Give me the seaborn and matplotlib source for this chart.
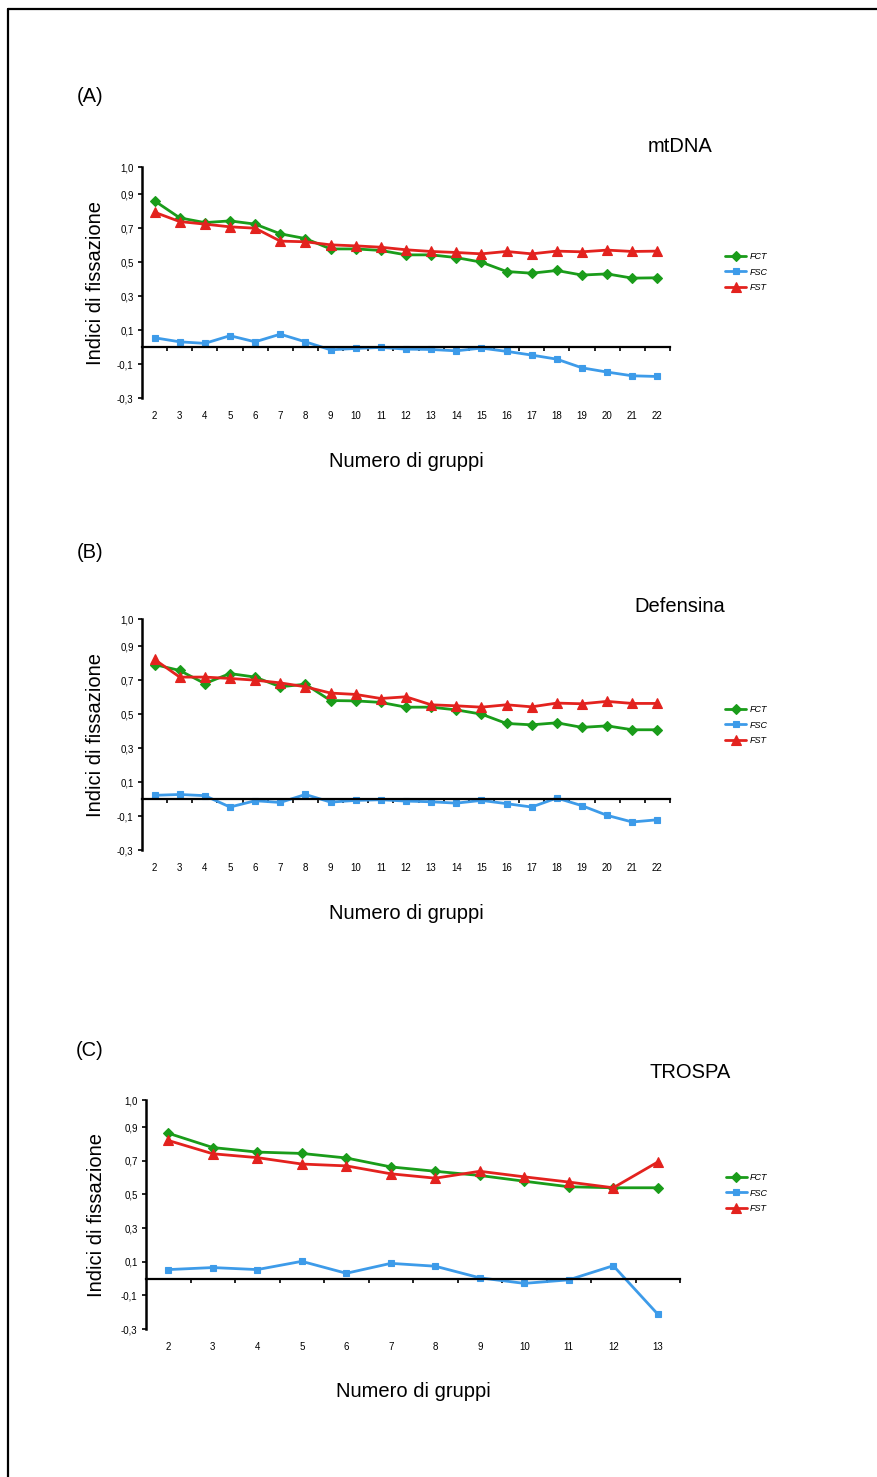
import numpy as np
import pandas as pd
import matplotlib.pyplot as plt
import seaborn as sns
from matplotlib.lines import Line2D

# DATA
gruppi_ab = list(range(2, 23))
gruppi_c = list(range(2, 14))

# (A) mtDNA
fct_a = [0.861, 0.761, 0.733, 0.743, 0.724, 0.667, 0.639, 0.578, 0.578, 0.569, 0.543,
         0.543, 0.527, 0.500, 0.445, 0.435, 0.451, 0.424, 0.431, 0.406, 0.408]
fsc_a = [0.055, 0.031, 0.022, 0.067, 0.031, 0.076, 0.031, -0.016, -0.008, -0.002, -0.012,
         -0.014, -0.022, -0.006, -0.025, -0.047, -0.071, -0.122, -0.147, -0.169, -0.173]
fst_a = [0.794, 0.739, 0.724, 0.708, 0.700, 0.624, 0.620, 0.602, 0.596, 0.588, 0.573,
         0.563, 0.557, 0.549, 0.563, 0.549, 0.565, 0.561, 0.571, 0.563, 0.565]

# (B) Defensina
fct_b = [0.792, 0.757, 0.680, 0.739, 0.718, 0.661, 0.676, 0.580, 0.578, 0.569, 0.541,
         0.541, 0.525, 0.500, 0.445, 0.437, 0.449, 0.422, 0.431, 0.408, 0.408]
fsc_b = [0.022, 0.027, 0.020, -0.047, -0.010, -0.020, 0.027, -0.018, -0.008, -0.004, -0.012,
         -0.016, -0.024, -0.008, -0.027, -0.047, 0.006, -0.039, -0.096, -0.135, -0.122]
fst_b = [0.822, 0.718, 0.718, 0.710, 0.700, 0.684, 0.661, 0.624, 0.616, 0.592, 0.602,
         0.555, 0.549, 0.541, 0.555, 0.543, 0.565, 0.561, 0.575, 0.563, 0.563]

# (C) TROSPA
fct_c = [0.863, 0.778, 0.751, 0.743, 0.716, 0.663, 0.637, 0.612, 0.578, 0.545, 0.539, 0.539]
fsc_c = [0.053, 0.065, 0.053, 0.102, 0.031, 0.090, 0.073, 0.004, -0.029, -0.008, 0.076, -0.212]
fst_c = [0.820, 0.741, 0.718, 0.680, 0.669, 0.622, 0.596, 0.637, 0.604, 0.573, 0.539, 0.692]

series_names = ['FCT', 'FSC', 'FST']
series_colors = ['#1a9c1a', '#3d9be9', '#e3221e']
series_markers = ['D', 's', '^']
series_msize = [5, 5, 6.5]

ytick_vals = [-0.3, -0.1, 0.1, 0.3, 0.5, 0.7, 0.9]
ytick_labels = ['-0,3', '-0,1', '0,1', '0,3', '0,5', '0,7', '0,9']
ytop_label = '1,0'

sns.set_style('white')
plt.rcParams['font.family'] = ['Liberation Sans', 'DejaVu Sans']
plt.rcParams['text.color'] = 'black'
plt.rcParams['axes.labelcolor'] = 'black'
plt.rcParams['xtick.color'] = 'black'
plt.rcParams['ytick.color'] = 'black'
narrow = ['Liberation Sans Narrow', 'Liberation Sans', 'DejaVu Sans']

fig = plt.figure(figsize=(8.77, 14.77), dpi=100)

panels = [
    # letter, title, groups, values, axes rect, letter pos, title pos, ylabel x, legend pos
    ('(A)', 'mtDNA', gruppi_ab, [fct_a, fsc_a, fst_a],
     [0.1619, 0.7305, 0.602, 0.1564], (-0.098, 1.307), (1.019, 1.091), -0.07, (1.098, 0.545)),
    ('(B)', 'Defensina', gruppi_ab, [fct_b, fsc_b, fst_b],
     [0.1619, 0.4245, 0.602, 0.1564], (-0.098, 1.29), (1.019, 1.052), -0.07, (1.098, 0.541)),
    ('(C)', 'TROSPA', gruppi_c, [fct_c, fsc_c, fst_c],
     [0.1665, 0.1002, 0.6089, 0.1550], (-0.105, 1.218), (1.019, 1.122), -0.075, (1.079, 0.594)),
]

ytop = 1.06

for letter, title, gruppi, vals, rect, lpos, tpos, ylab_x, leg_pos in panels:
    ax = fig.add_axes(rect)
    df = pd.DataFrame({'gruppi': gruppi})
    for name, v in zip(series_names, vals):
        df[name] = v
    long = df.melt(id_vars='gruppi', var_name='indice', value_name='valore')

    for name, col, mk, ms in zip(series_names, series_colors, series_markers, series_msize):
        sub = long[long.indice == name]
        sns.lineplot(data=sub, x='gruppi', y='valore', ax=ax, color=col, marker=mk,
                     markersize=ms, markeredgecolor=col, markeredgewidth=0.8,
                     linewidth=2, label=name)

    ax.set_xlim(gruppi[0] - 0.5, gruppi[-1] + 0.5)
    ax.set_ylim(-0.3, ytop)

    # zero line as x axis, ticks between categories
    for s in ['top', 'right']:
        ax.spines[s].set_visible(False)
    ax.spines['bottom'].set_position(('data', 0))
    ax.spines['bottom'].set_linewidth(1.6)
    ax.spines['left'].set_linewidth(1.8)
    for s in ['bottom', 'left']:
        ax.spines[s].set_color('black')
    ax.set_xticks([g + 0.5 for g in gruppi])
    ax.tick_params(axis='x', direction='out', length=3, width=1.2, color='black',
                   bottom=True, labelbottom=False)
    ax.set_xlabel('')

    sec = ax.secondary_xaxis('bottom')
    sec.set_xticks(gruppi)
    sec.set_xticklabels([str(g) for g in gruppi], fontsize=7, family=narrow)
    sec.tick_params(length=0, pad=9)
    sec.spines['bottom'].set_visible(False)

    ax.set_yticks(ytick_vals + [ytop])
    ax.set_yticklabels(ytick_labels + [ytop_label], fontsize=7, family=narrow)
    ax.tick_params(axis='y', direction='out', length=3, width=1.2, color='black',
                   left=True, pad=3)
    ax.set_ylabel('Indici di fissazione', fontsize=14.5)
    ax.yaxis.set_label_coords(ylab_x, 0.5)

    ax.text(0.5, -0.275, 'Numero di gruppi', transform=ax.transAxes,
            ha='center', va='center', fontsize=14.5)
    ax.text(lpos[0], lpos[1], letter, transform=ax.transAxes,
            ha='center', va='center', fontsize=14.5)
    ax.text(tpos[0], tpos[1], title, transform=ax.transAxes,
            ha='center', va='center', fontsize=14.5)

    ax.legend(loc='center left', bbox_to_anchor=leg_pos, frameon=False,
              borderaxespad=0, handlelength=2.3, handletextpad=0.4,
              labelspacing=0.75, prop={'size': 6.5, 'style': 'italic'})

# page frame (left and top edges)
fig.add_artist(Line2D([8 / 877, 8 / 877], [0, 1 - 9 / 1477], transform=fig.transFigure,
                      color='black', linewidth=1.6))
fig.add_artist(Line2D([8 / 877, 1], [1 - 9 / 1477, 1 - 9 / 1477], transform=fig.transFigure,
                      color='black', linewidth=1.6))

fig.savefig('out.png', dpi=100)
